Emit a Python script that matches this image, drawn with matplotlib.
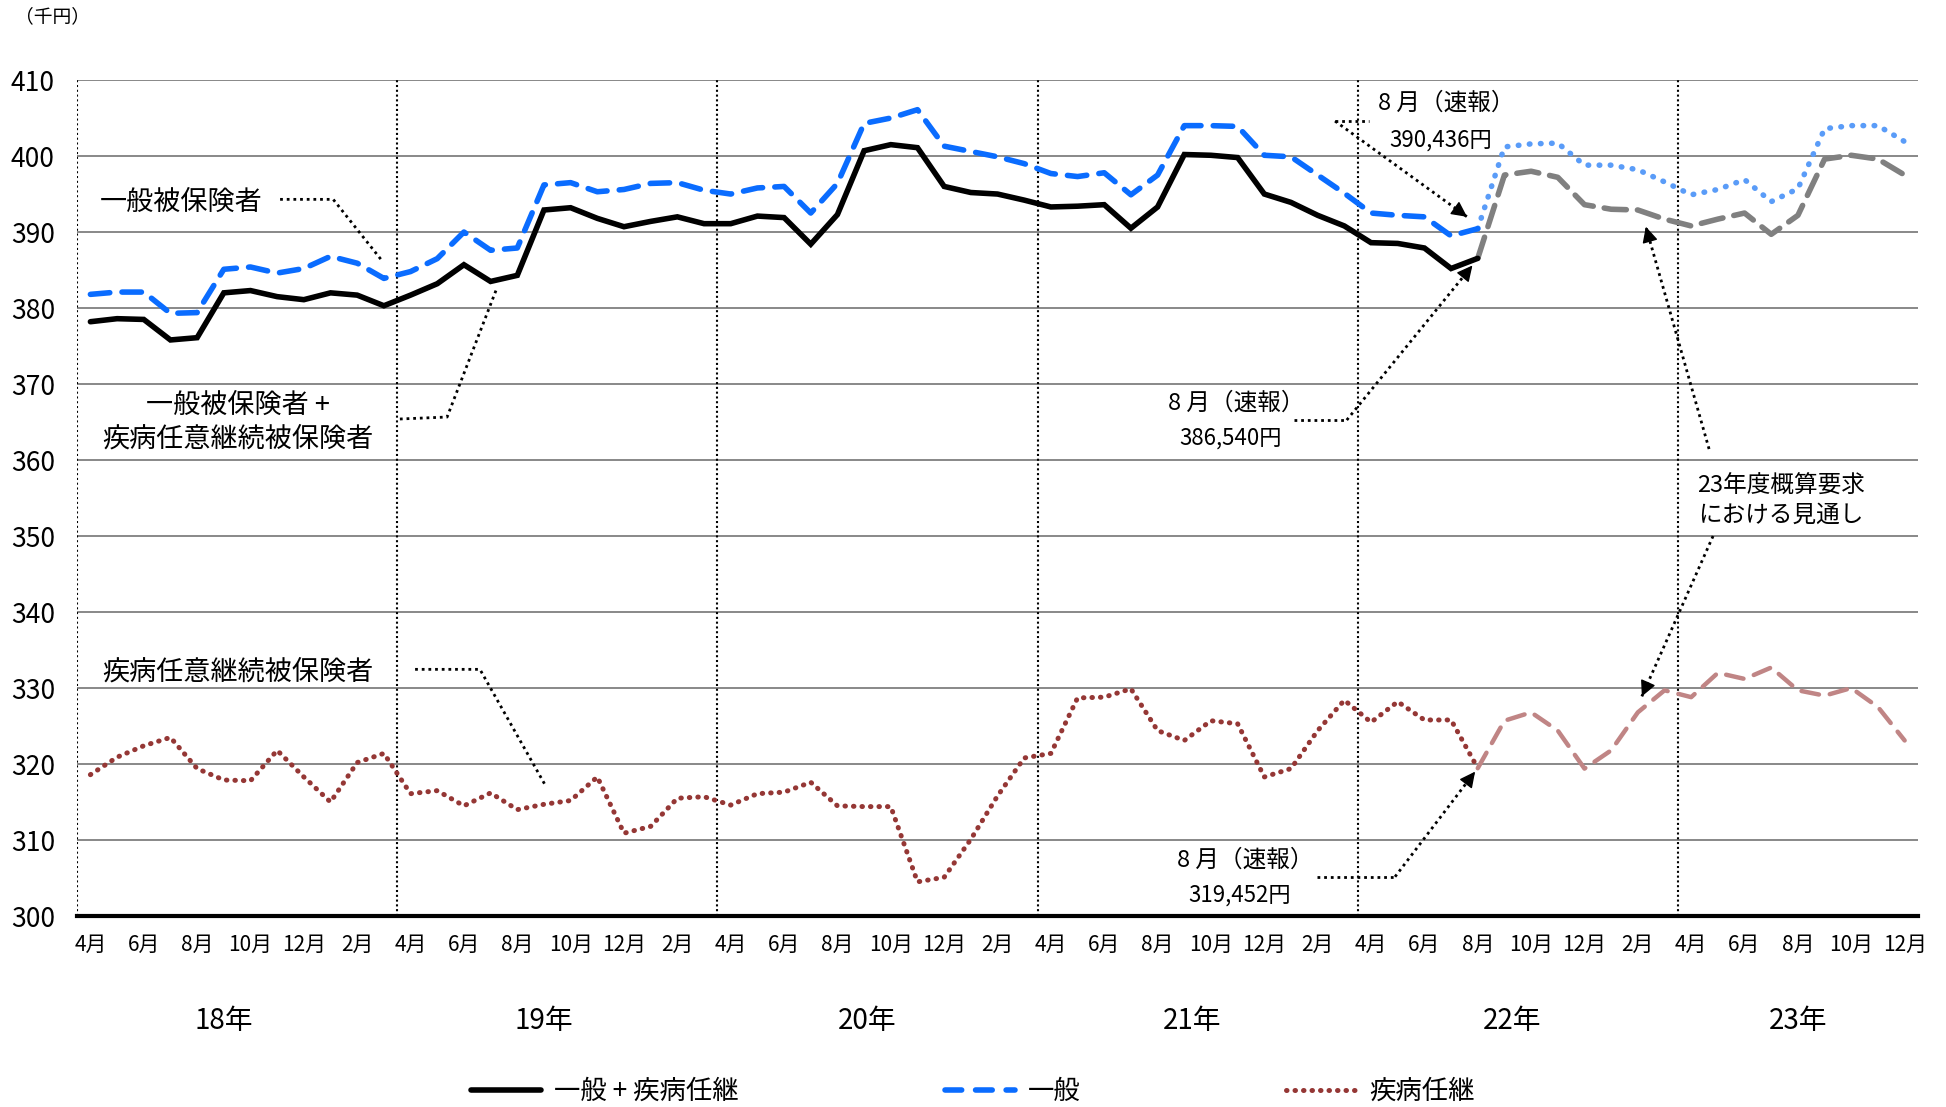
import matplotlib
matplotlib.use("Agg")
import matplotlib.pyplot as plt
from matplotlib.lines import Line2D
import numpy as np

plt.rcParams['font.family'] = ['Noto Sans CJK JP', 'DejaVu Sans']

# ---- data (千円), months Apr 2018 .. Dec 2023 ----
n_months = 69
actual_end = 52  # Aug 2022 (速報)

total_actual = [378.2, 378.6, 378.5, 375.8, 376.1, 382.0, 382.3, 381.5, 381.1, 382.0,
                381.7, 380.3, 381.7, 383.2, 385.7, 383.5, 384.3, 392.9, 393.2, 391.8,
                390.7, 391.4, 392.0, 391.1, 391.1, 392.1, 391.9, 388.4, 392.3, 400.7,
                401.5, 401.1, 396.0, 395.2, 395.0, 394.2, 393.3, 393.4, 393.6, 390.5,
                393.3, 400.2, 400.1, 399.8, 395.0, 393.9, 392.2, 390.8, 388.6, 388.5,
                387.9, 385.2, 386.54]
general_actual = [381.8, 382.1, 382.1, 379.3, 379.4, 385.1, 385.4, 384.6, 385.2, 386.8,
                  385.9, 383.9, 384.8, 386.5, 390.0, 387.6, 387.9, 396.2, 396.5, 395.3,
                  395.6, 396.4, 396.5, 395.5, 395.0, 395.8, 396.0, 392.5, 396.4, 404.3,
                  405.0, 406.1, 401.3, 400.6, 399.9, 399.0, 397.7, 397.3, 397.8, 394.9,
                  397.5, 404.0, 404.0, 403.9, 400.1, 399.9, 397.5, 395.1, 392.5, 392.2,
                  392.0, 389.5, 390.44]
voluntary_actual = [318.6, 320.9, 322.4, 323.5, 319.4, 317.9, 317.8, 321.8, 318.3, 315.0,
                    320.2, 321.4, 316.1, 316.5, 314.5, 316.2, 314.0, 314.7, 315.2, 318.3,
                    310.9, 311.8, 315.5, 315.7, 314.6, 316.1, 316.3, 317.6, 314.5, 314.4,
                    314.4, 304.5, 305.1, 310.1, 315.8, 320.8, 321.4, 328.7, 328.8, 329.9,
                    324.4, 323.1, 325.7, 325.3, 318.3, 319.4, 324.4, 328.4, 325.5, 328.2,
                    325.8, 325.8, 319.45]

# 23年度概算要求における見通し (Aug 2022 .. Dec 2023)
total_outlook = [386.54, 397.5, 398.0, 397.2, 393.6, 393.0, 392.9, 391.7, 390.8, 391.7,
                 392.5, 389.7, 392.2, 399.6, 400.1, 399.6, 397.5]
general_outlook = [390.44, 401.2, 401.6, 401.7, 398.8, 398.8, 398.2, 396.6, 394.9, 395.6,
                   396.9, 394.0, 395.7, 403.6, 404.0, 404.0, 401.9]
voluntary_outlook = [319.45, 325.7, 326.8, 324.4, 319.4, 321.8, 326.8, 329.7, 328.8, 332.0,
                     331.2, 332.7, 329.7, 329.0, 330.0, 327.5, 323.1]

year_labels = ['18年', '19年', '20年', '21年', '22年', '23年']
month_labels = [f'{(i + 3) % 12 + 1}月' for i in range(0, n_months, 2)]

x_act = np.arange(0, actual_end + 1)
x_out = np.arange(actual_end, n_months)

fig = plt.figure(figsize=(19.46, 11.07), dpi=100)
ax = fig.add_axes([0.0396, 0.1725, 0.946, 0.7552])

# grid and frame
ax.set_xlim(-0.5, n_months - 0.5)
ax.set_ylim(300, 410)
ax.set_yticks(np.arange(300, 411, 10))
for v in range(310, 411, 10):
    ax.axhline(v, color='#7f7f7f', lw=1.3, zorder=1)
for b in [-0.5, 11.5, 23.5, 35.5, 47.5, 59.5]:
    ax.axvline(b, color='black', lw=1.5, ls=(0, (1, 1.3)), zorder=1)
for s in ['top', 'right', 'left']:
    ax.spines[s].set_visible(False)
ax.spines['bottom'].set_linewidth(3)

# outlook lines
ax.plot(x_out, general_outlook, color='#5a9cf8', lw=4, dashes=(0.1, 1.9),
        dash_capstyle='round', zorder=3)
ax.plot(x_out, total_outlook, color='#808080', lw=4, dashes=(4, 2),
        dash_capstyle='round', zorder=3)
ax.plot(x_out, voluntary_outlook, color='#c08585', lw=3.2, dashes=(4, 2.5),
        dash_capstyle='round', zorder=3)

# actual lines
ax.plot(x_act, general_actual, color='#0a6cff', lw=4, dashes=(3.5, 2.2),
        dash_capstyle='round', zorder=4)
ax.plot(x_act, total_actual, color='black', lw=4, solid_capstyle='round',
        solid_joinstyle='miter', zorder=5)
ax.plot(x_act, voluntary_actual, color='#953735', lw=3.6, dashes=(0.1, 1.6),
        dash_capstyle='round', zorder=4)

# ticks
ax.set_xticks(np.arange(0, n_months, 2))
ax.set_xticklabels(month_labels, fontsize=15)
ax.tick_params(axis='x', length=0, pad=13)
ax.tick_params(axis='y', length=0, pad=16, labelsize=19)

trans = ax.get_xaxis_transform()
for xpos, lab in zip([5.0, 17.0, 29.1, 41.3, 53.3, 64.0], year_labels):
    ax.text(xpos, -0.126, lab, transform=trans, ha='center', va='center', fontsize=20)

fig.text(0.0075, 0.985, '（千円）', ha='left', va='center', fontsize=13.5)

leader = dict(color='black', lw=2, ls=(0, (1, 1.4)), zorder=6)


def arrow(x0, y0, x1, y1):
    ax.plot([x0, x1], [y0, y1], **leader)
    fx = x1 - (x1 - x0) * 0.06
    fy = y1 - (y1 - y0) * 0.06
    ax.annotate('', xy=(x1, y1), xytext=(fx, fy),
                arrowprops=dict(arrowstyle='-|>', color='black', lw=1,
                                mutation_scale=24, shrinkA=0, shrinkB=0), zorder=6)


# series labels
ax.text(0.36, 393.95, '一般被保険者', fontsize=19.5, ha='left', va='center')
ax.plot([7.11, 9.1, 10.97], [394.3, 394.3, 386.05], **leader)

ax.text(5.53, 365.0, '一般被保険者 +\n疾病任意継続被保険者', fontsize=19.5,
        ha='center', va='center', linespacing=1.3)
ax.plot([11.6, 13.37, 15.2], [365.4, 365.66, 382.3], **leader)

ax.text(0.44, 332.1, '疾病任意継続被保険者', fontsize=19.5, ha='left', va='center')
ax.plot([12.17, 14.6, 17.06], [332.46, 332.46, 317.15], **leader)

# 速報 labels
ax.text(50.81, 407.0, '8 月（速報）', fontsize=17, ha='center', va='center')
ax.text(50.6, 402.1, '390,436円', fontsize=16, ha='center', va='center')
ax.plot([46.65, 47.92], [404.6, 404.6], **leader)
arrow(46.65, 404.6, 51.6, 392.0)

ax.text(42.94, 367.5, '8 月（速報）', fontsize=17, ha='center', va='center')
ax.text(42.72, 362.9, '386,540円', fontsize=16, ha='center', va='center')
ax.plot([45.13, 47.09], [365.26, 365.26], **leader)
arrow(47.09, 365.26, 51.8, 385.6)

ax.text(43.28, 307.37, '8 月（速報）', fontsize=17, ha='center', va='center')
ax.text(43.06, 302.76, '319,452円', fontsize=16, ha='center', va='center')
ax.plot([45.96, 48.9], [305.17, 305.17], **leader)
arrow(48.9, 305.17, 51.9, 319.0)

ax.text(63.37, 354.65, '23年度概算要求\nにおける見通し', fontsize=17,
        ha='center', va='center', linespacing=1.35)
arrow(60.67, 361.45, 58.3, 390.7)
arrow(60.82, 350.0, 58.15, 328.9)

# legend
handles = [
    Line2D([], [], color='black', lw=4, solid_capstyle='round'),
    Line2D([], [], color='#0a6cff', lw=4, dashes=(3, 2.5), dash_capstyle='round'),
    Line2D([], [], color='#953735', lw=3.6, dashes=(0.1, 1.6), dash_capstyle='round'),
]
fig.legend(handles, ['一般 + 疾病任継', '一般', '疾病任継'], loc='center',
           bbox_to_anchor=(0.5, 0.014), ncol=3, frameon=False, fontsize=19,
           handlelength=2.65, handletextpad=0.5, columnspacing=7.8,
           borderpad=0.1)

fig.savefig('out.png', dpi=100)
